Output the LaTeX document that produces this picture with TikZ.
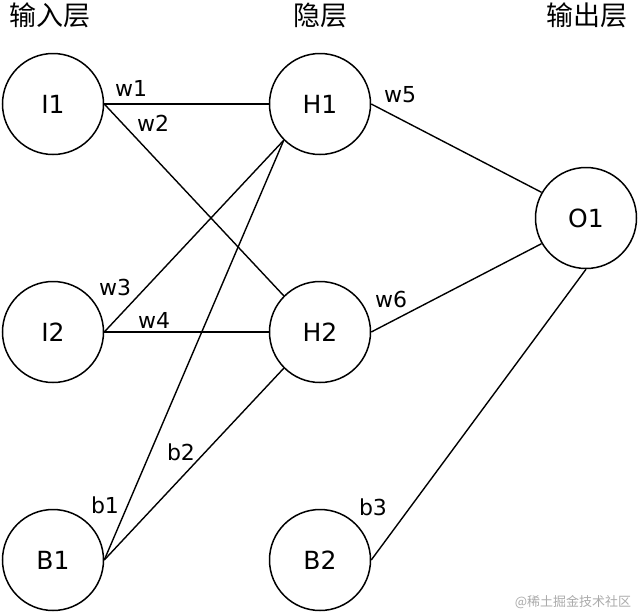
\documentclass[tikz,border=0pt]{standalone}
\usepackage{fontspec}
\setmainfont{DejaVu Sans}
\newfontfamily\cjkfont{Noto Sans CJK SC}
\usetikzlibrary{positioning}
\definecolor{markGray}{HTML}{ABABAB}

\begin{document}
\begin{tikzpicture}[x=1pt,y=-1pt,
  neuron/.style={circle,draw,line width=1.5pt,minimum size=101pt,inner sep=0pt,
    font=\fontsize{25}{25}\selectfont},
  layertitle/.style={font=\cjkfont\fontsize{27}{27}\selectfont,inner sep=0pt},
  wlabel/.style={font=\fontsize{22}{22}\selectfont,inner sep=0pt},
  link/.style={line width=1.4pt}]
  \useasboundingbox[fill=white] (0,0) rectangle (640,614);

  \node[layertitle] (tIn)  at (50,15)  {输入层};
  \node[layertitle] (tHid) at (320,15) {隐层};
  \node[layertitle] (tOut) at (587,15) {输出层};

  \node[neuron] (I1) at (53,104) {I1};
  \node[neuron] (I2) at (53,332) {I2};
  \node[neuron] (B1) at (53,560) {B1};
  \node[neuron] (H1) at (320,104) {H1};
  \node[neuron] (H2) at (320,332) {H2};
  \node[neuron] (B2) at (320,560) {B2};
  \node[neuron] (O1) at (586,218) {O1};

  \draw[line width=2.4pt] (I1.east) -- (H1.west);
  \draw[link] (I1.east) -- (H2.north west);
  \draw[link] (I2.east) -- (H1.south west);
  \draw[link] (I2.east) -- (H2.west);
  \draw[link] (B1.east) -- (H1.south west);
  \draw[link] (B1.east) -- (H2.south west);
  \draw[link] (H1.east) -- (O1.150);
  \draw[link] (H2.east) -- (O1.210);
  \draw[link] (B2.east) -- (O1.south);

  \node[wlabel] (w1) at (131,88)  {w1};
  \node[wlabel] (w2) at (153,123) {w2};
  \node[wlabel] (w3) at (115,287) {w3};
  \node[wlabel] (w4) at (154,320) {w4};
  \node[wlabel] (w5) at (400,95)  {w5};
  \node[wlabel] (w6) at (391,299) {w6};
  \node[wlabel] (b1) at (105,505) {b1};
  \node[wlabel] (b2) at (181,452) {b2};
  \node[wlabel] (b3) at (373,507) {b3};

  \node[font=\cjkfont\fontsize{13}{13}\selectfont,text=markGray,inner sep=0pt]
    (mark) at (573,602) {@稀土掘金技术社区};
\end{tikzpicture}
\end{document}
